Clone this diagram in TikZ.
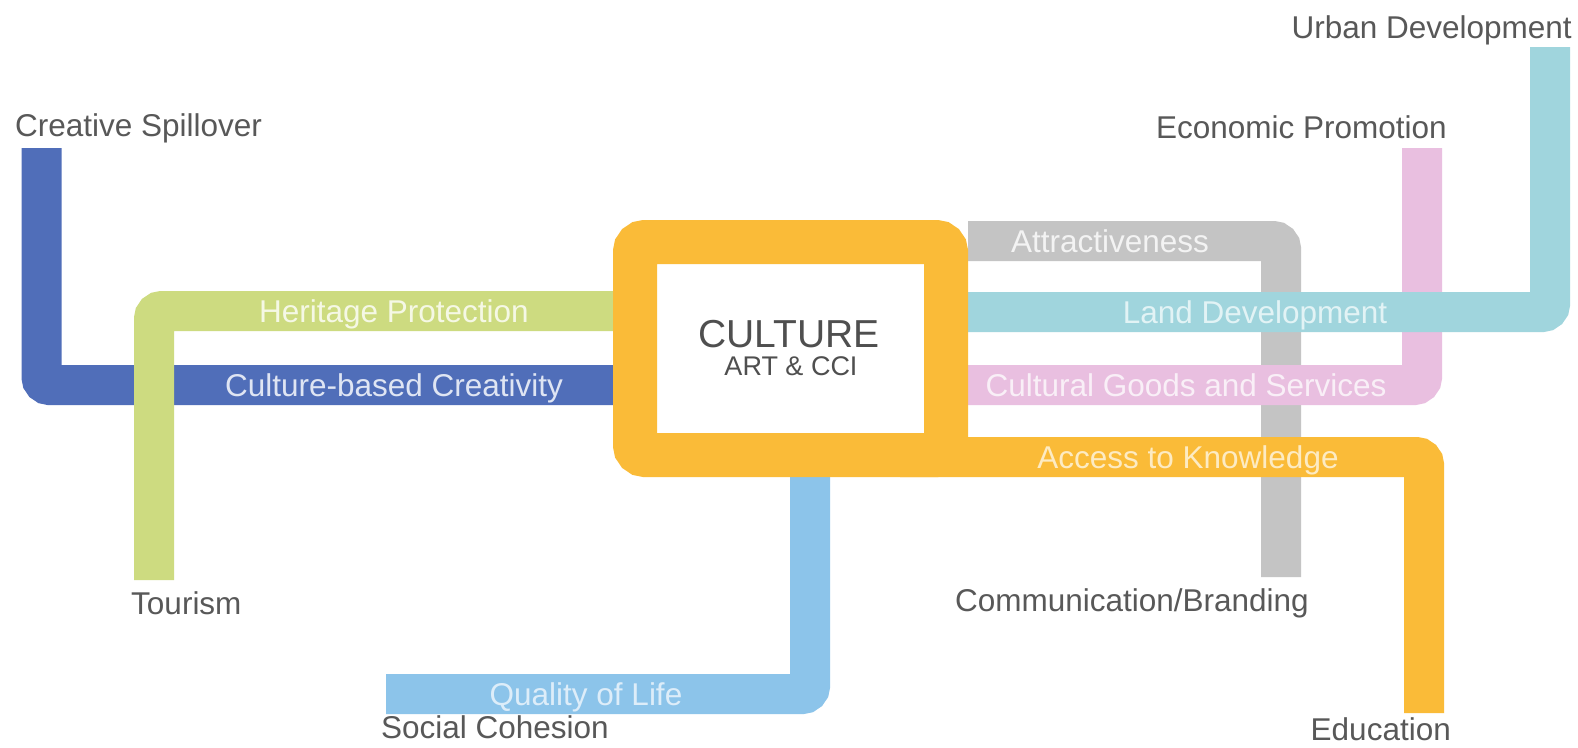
\documentclass[tikz,border=0pt]{standalone}
\usepackage{fontspec}
\setmainfont{Liberation Sans}
\definecolor{cblue}{RGB}{80,110,185}
\definecolor{cgreen}{RGB}{205,219,128}
\definecolor{corange}{RGB}{250,187,56}
\definecolor{cgray}{RGB}{196,196,196}
\definecolor{cteal}{RGB}{160,213,221}
\definecolor{cpink}{RGB}{233,191,224}
\definecolor{clblue}{RGB}{140,196,234}
\definecolor{labelgray}{RGB}{88,88,88}
\newcommand{\lblfont}{\fontsize{31.5}{35}\selectfont}
\begin{document}
\begin{tikzpicture}[x=1pt,y=-1pt,
  band/.style={line width=40pt, rounded corners=8pt},
  outer/.style={font=\lblfont, text=labelgray, inner sep=0pt},
  inband/.style={font=\lblfont, inner sep=0pt, anchor=base}]
\fill[white] (0,0) rectangle (1578,747);
\useasboundingbox (0,0) rectangle (1578,747);
% coordinates
\coordinate (bS) at (41.5,148); \coordinate (bC) at (41.5,385); \coordinate (bE) at (635,385);
\coordinate (gS) at (635,311); \coordinate (gC) at (154,311); \coordinate (gE) at (154,580);
\coordinate (yS) at (968,241); \coordinate (yC) at (1281,241); \coordinate (yE) at (1281,577);
\coordinate (pS) at (968,385); \coordinate (pC) at (1422,385); \coordinate (pE) at (1422,148);
\coordinate (tS) at (968,312); \coordinate (tC) at (1550,312); \coordinate (tE) at (1550,47);
\coordinate (lS) at (810,470); \coordinate (lC) at (810,694); \coordinate (lE) at (386,694);
\coordinate (oS) at (900,457); \coordinate (oC) at (1424,457); \coordinate (oE) at (1424,713);
% bands
\draw[band, cblue] (bS) -- (bC) -- (bE);
\draw[band, cgreen] (gS) -- (gC) -- (gE);
\draw[band, cgray] (yS) -- (yC) -- (yE);
\draw[band, cpink] (pS) -- (pC) -- (pE);
\draw[band, cteal] (tS) -- (tC) -- (tE);
\draw[band, clblue] (lS) -- (lC) -- (lE);
% central frame
\draw[corange, line width=44pt, rounded corners=10pt] (635,242) rectangle (946,455);
\draw[band, corange] (oS) -- (oC) -- (oE);
\node[font=\fontsize{39}{42}\selectfont, text=labelgray!90!black, anchor=base, inner sep=0pt] (cult) at (789,347) {CULTURE};
\node[font=\fontsize{27}{30}\selectfont, text=labelgray!90!black, anchor=base, inner sep=0pt] (art) at (791,375) {ART \& CCI};
% band labels
\node[inband, text=white!80!cgreen] (heritage) at (394,322) {Heritage Protection};
\node[inband, text=white!82!cblue] (cbc) at (394,396) {Culture-based Creativity};
\node[inband, text=white!80!cgray] (attr) at (1110,252) {Attractiveness};
\node[inband, text=white!70!cteal] (land) at (1255,323) {Land Development};
\node[inband, text=white!75!cpink] (cgs) at (1186,396) {Cultural Goods and Services};
\node[inband, text=white!70!corange] (akn) at (1188,468) {Access to Knowledge};
\node[inband, text=white!70!clblue] (qol) at (586,705) {Quality of Life};
% outer labels
\node[outer, anchor=base west] (spill) at (15,136) {Creative Spillover};
\node[outer, anchor=base east] (urban) at (1572,38) {Urban Development};
\node[outer, anchor=base east] (econ) at (1447,138) {Economic Promotion};
\node[outer, anchor=base west] (tour) at (131,614) {Tourism};
\node[outer, anchor=base east] (comm) at (1309,611) {Communication/Branding};
\node[outer, anchor=base west] (soc) at (381,738) {Social Cohesion};
\node[outer, anchor=base east] (edu) at (1451,740) {Education};
\end{tikzpicture}
\end{document}
